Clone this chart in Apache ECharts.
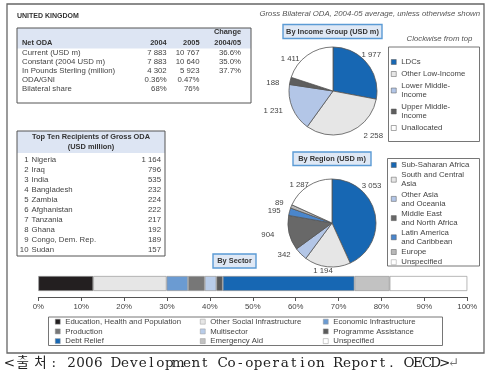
<!DOCTYPE html>
<html><head><meta charset="utf-8">
<script src="https://cdn.jsdelivr.net/npm/echarts@6/dist/echarts.min.js"></script>
<style>html,body{margin:0;padding:0;background:#fff}#c{width:492px;height:382px}</style>
</head><body><div id="c"></div>
<script>
// ---------- data ----------
const incomeNames = ['LDCs', 'Other Low-Income', 'Lower Middle-\nIncome', 'Upper Middle-\nIncome', 'Unallocated'];
const incomeValues = [1977, 2258, 1231, 188, 1411];
const regionNames = ['Sub-Saharan Africa', 'South and Central\nAsia', 'Other Asia\nand Oceania', 'Middle East\nand North Africa', 'Latin America\nand Caribbean', 'Europe', 'Unspecified'];
const regionValues = [3053, 1194, 342, 904, 195, 89, 1287];
const sectorNames = ['Education, Health and Population', 'Other Social Infrastructure', 'Economic Infrastructure', 'Production', 'Multisector', 'Programme Assistance', 'Debt Relief', 'Emergency Aid', 'Unspecified'];
const sectorShares = [12.8, 17.1, 5.0, 3.9, 2.7, 1.5, 30.7, 8.2, 18.1];
const sectorCategory = ['By Sector'];
const axisMin = 0, axisMax = 100, axisStep = 10;

const odaHeader = ['Net ODA', '2004', '2005', 'Change\n2004/05'];
const odaRows = ['Current (USD m)', 'Constant (2004 USD m)', 'In Pounds Sterling (million)', 'ODA/GNI', 'Bilateral share'];
const oda2004 = ['7 883', '7 883', '4 302', '0.36%', '68%'];
const oda2005 = ['10 767', '10 640', '5 923', '0.47%', '76%'];
const odaChange = ['36.6%', '35.0%', '37.7%', '', ''];

const topTenTitle = 'Top Ten Recipients of Gross ODA\n(USD million)';
const topTenNames = ['Nigeria', 'Iraq', 'India', 'Bangladesh', 'Zambia', 'Afghanistan', 'Tanzania', 'Ghana', 'Congo, Dem. Rep.', 'Sudan'];
const topTenValues = [1164, 796, 535, 232, 224, 222, 217, 192, 189, 157];

const captionText = '<출처: 2006 Development Co-operation Report. OECD>↵';

// ---------- styles ----------
const incomeColors = ['#1767b3', '#e6e6e6', '#b3c6e7', '#5e5e5e', '#ffffff'];
const regionColors = ['#1767b3', '#e6e6e6', '#b3c6e7', '#686868', '#4a86cc', '#b8b8b8', '#ffffff'];
const sectorColors = ['#231f20', '#e6e6e6', '#6b9bd2', '#777777', '#b8cce9', '#5a5a5a', '#1767b3', '#c2c2c2', '#ffffff'];
// label nudges (pixels) so pie labels sit where the original put them
const incomeLabelShift = [[-18, -4], [4, -2], [4, 0], [3, 3], [4, 8]];
const regionLabelShift = [[-27, -27], [14, -2], [2, -3], [-1, 1], [5, 1], [6, -1], [12, 4]];
const FONT = 'Liberation Sans, Arial, sans-serif';
const TXT = '#444';

function fmt(n) {
  return n >= 1000 ? Math.floor(n / 1000) + ' ' + String(n % 1000).padStart(3, '0') : String(n);
}

// ---------- graphic helpers ----------
const G = [];
function txt(x, y, text, o) {
  o = o || {};
  G.push({
    type: 'text', z: 10,
    style: {
      x: x, y: y, text: text,
      fontSize: o.size || 7.8, fontFamily: o.family || FONT,
      fontWeight: o.bold ? 'bold' : 'normal',
      fontStyle: o.italic ? 'italic' : 'normal',
      fill: o.color || TXT,
      align: o.align || 'left', textAlign: o.align || 'left',
      verticalAlign: 'middle', textVerticalAlign: 'middle',
      lineHeight: o.lh || 10
    }
  });
}
function box(x, y, w, h, fill, stroke, lw) {
  G.push({
    type: 'rect', z: 5,
    shape: { x: x, y: y, width: w, height: h },
    style: { fill: fill || 'none', stroke: stroke || 'none', lineWidth: lw || 1 }
  });
}

// outer frame
box(7, 4, 477, 349, 'none', '#666', 1.3);
txt(17, 15.7, 'UNITED KINGDOM', { bold: true, size: 7, color: '#333' });
txt(480, 14, 'Gross Bilateral ODA, 2004-05 average, unless otherwise shown', { italic: true, align: 'right', size: 7.8, color: '#555' });

// Net ODA table
box(17, 28, 234, 20.5, '#dde5f3', 'none');
box(17, 28, 234, 75, 'none', '#555', 1);
txt(22, 42.7, odaHeader[0], { bold: true, size: 7.4, color: '#333' });
txt(166.7, 42.7, odaHeader[1], { bold: true, size: 7.4, color: '#333', align: 'right' });
txt(199.5, 42.7, odaHeader[2], { bold: true, size: 7.4, color: '#333', align: 'right' });
txt(241, 37.5, odaHeader[3], { bold: true, size: 7.4, color: '#333', align: 'right', lh: 10.4 });
odaRows.forEach((r, i) => {
  const y = 52.7 + i * 9.15;
  txt(22, y, r);
  txt(166.7, y, oda2004[i], { align: 'right' });
  txt(199.5, y, oda2005[i], { align: 'right' });
  txt(241, y, odaChange[i], { align: 'right' });
});

// Top ten table
box(17, 131, 148, 22, '#dde5f3', 'none');
box(17, 131, 148, 125, 'none', '#555', 1);
txt(91, 142, topTenTitle, { bold: true, size: 7.4, color: '#333', align: 'center', lh: 9.4 });
topTenNames.forEach((n, i) => {
  const y = 160 + i * 10;
  txt(28.5, y, String(i + 1), { align: 'right' });
  txt(31.5, y, n);
  txt(161, y, fmt(topTenValues[i]), { align: 'right' });
});

// section label boxes
box(283, 24.5, 99, 14, '#dfe8f5', '#5b9bd5', 1.4);
txt(332.5, 31.5, 'By Income Group (USD m)', { bold: true, size: 7.4, color: '#333', align: 'center' });
box(293, 152, 78, 13.5, '#dfe8f5', '#5b9bd5', 1.4);
txt(332, 158.8, 'By Region (USD m)', { bold: true, size: 7.4, color: '#333', align: 'center' });
box(213, 254, 43, 14, '#dfe8f5', '#5b9bd5', 1.4);
txt(234.5, 261, 'By Sector', { bold: true, size: 7.4, color: '#333', align: 'center' });

txt(439.5, 39, 'Clockwise from top', { italic: true, align: 'center', size: 7.8, color: '#555' });

// legend boxes
box(388.5, 47, 91, 94.5, 'none', '#666', 0.9);
box(387.5, 158.5, 92, 107.5, 'none', '#666', 0.9);
box(48.5, 317, 394, 28.5, 'none', '#666', 0.9);

// caption: Korean word-processor layout, each character in its own cell (Hangul = 2 cells)
(function () {
  const cell = 8.88;
  let pos = 0;
  Array.from(captionText).forEach(ch => {
    const w = /[\uAC00-\uD7A3]/.test(ch) ? 2 : 1;
    if (ch !== ' ') {
      txt(5 + (pos + w / 2) * cell, 363.5, ch, {
        size: 13.5, family: 'DejaVu Serif, Noto Sans CJK KR, serif',
        color: ch === '↵' ? '#777' : '#222', align: 'center'
      });
    }
    pos += w;
  });
})();

// ---------- chart ----------
function pieSeries(name, names, values, colors, center, shifts) {
  return {
    type: 'pie', name: name, center: center, radius: 44,
    startAngle: 90, clockwise: true, animation: false,
    avoidLabelOverlap: false,
    emphasis: { disabled: true },
    itemStyle: { borderColor: '#555', borderWidth: 0.8 },
    label: {
      show: true, position: 'outside', fontSize: 7.8, fontFamily: FONT, color: TXT,
      formatter: p => fmt(p.value)
    },
    labelLine: { show: false, length: 6, length2: 3 },
    labelLayout: p => ({ dx: shifts[p.dataIndex][0], dy: shifts[p.dataIndex][1] }),
    data: names.map((n, i) => ({ name: n, value: values[i], itemStyle: { color: colors[i] } }))
  };
}

const legendCommon = {
  orient: 'vertical', icon: 'rect', itemWidth: 5, itemHeight: 5, padding: 0,
  selectedMode: false,
  itemStyle: { borderWidth: 0.5 },
  textStyle: { fontSize: 7.8, fontFamily: FONT, color: TXT }
};
function lg(extra, lh) {
  return Object.assign({}, legendCommon, extra, {
    textStyle: Object.assign({}, legendCommon.textStyle, { lineHeight: lh })
  });
}

const option = {
  animation: false,
  graphic: G,
  grid: { left: 38.3, right: 24.7, top: 270, height: 27 },
  xAxis: {
    type: 'value', min: axisMin, max: axisMax, interval: axisStep,
    axisLine: { show: true, lineStyle: { color: '#555', width: 1 } },
    axisTick: { show: true, length: 4, lineStyle: { color: '#555' } },
    splitLine: { show: false },
    axisLabel: { formatter: '{value}%', fontSize: 7.8, fontFamily: FONT, color: TXT, margin: 6 }
  },
  yAxis: { type: 'category', data: sectorCategory, show: false },
  legend: [
    lg({ left: 391, top: 57.5, itemGap: 3, data: incomeNames }, 9),
    lg({ left: 391, top: 160.5, itemGap: 1.2, data: regionNames }, 9),
    lg({ left: 55, top: 317.7, itemGap: 1.7, data: [sectorNames[0], sectorNames[3], sectorNames[6]] }, 8),
    lg({ left: 200, top: 317.7, itemGap: 1.7, data: [sectorNames[1], sectorNames[4], sectorNames[7]] }, 8),
    lg({ left: 323, top: 317.7, itemGap: 1.7, data: [sectorNames[2], sectorNames[5], sectorNames[8]] }, 8)
  ],
  series: [
    pieSeries('income', incomeNames, incomeValues, incomeColors, [333, 91], incomeLabelShift),
    pieSeries('region', regionNames, regionValues, regionColors, [332, 223], regionLabelShift)
  ].concat(sectorNames.map((n, i) => ({
    type: 'bar', name: n, stack: 'sector', barWidth: 15, animation: false,
    emphasis: { disabled: true },
    itemStyle: { color: sectorColors[i], borderColor: '#999', borderWidth: 0.7 },
    data: [sectorShares[i]]
  })))
};

const chart = echarts.init(document.getElementById('c'), null, { renderer: 'canvas' });
chart.setOption(option);
</script>
</body></html>
